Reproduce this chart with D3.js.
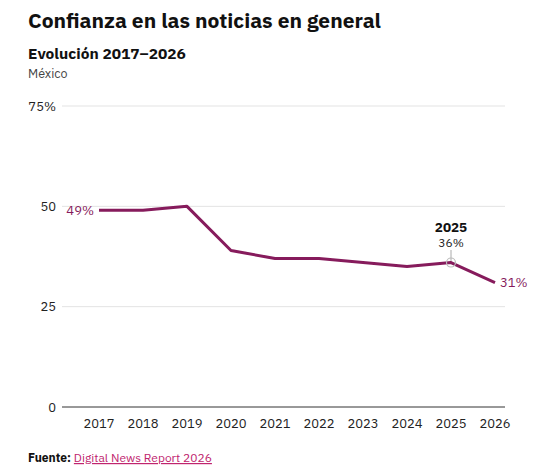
<!DOCTYPE html>
<html>
<head>
<meta charset="utf-8">
<script src="https://cdn.jsdelivr.net/npm/d3@7"></script>
<style>
  body { margin: 0; background: #fff; font-family: "IBM Plex Sans", Roboto, "Noto Sans", sans-serif; }
  svg { display: block; }
</style>
</head>
<body>
<script>
const years = [2017, 2018, 2019, 2020, 2021, 2022, 2023, 2024, 2025, 2026];
const trust = [49, 49, 50, 39, 37, 37, 36, 35, 36, 31];
const yTicks = [0, 25, 50, 75];
const highlightYear = 2025;

const width = 536, height = 469;
const color = '#861b5c';

const svg = d3.select('body').append('svg')
  .attr('width', width)
  .attr('height', height);

// titles
svg.append('text')
  .attr('x', 28).attr('y', 28)
  .attr('font-size', 21).attr('font-weight', 700).attr('fill', '#111')
  .text('Confianza en las noticias en general');
svg.append('text')
  .attr('x', 28).attr('y', 59)
  .attr('font-size', 15.5).attr('font-weight', 700).attr('fill', '#111')
  .text('Evolución 2017–2026');
svg.append('text')
  .attr('x', 28).attr('y', 78)
  .attr('font-size', 12.5).attr('fill', '#444')
  .text('México');

const x = d3.scalePoint().domain(years).range([99, 495]);
const y = d3.scaleLinear().domain([0, 75]).range([407, 106]);

// grid
svg.append('g')
  .selectAll('line')
  .data(yTicks)
  .join('line')
  .attr('x1', 62).attr('x2', 505)
  .attr('y1', d => y(d)).attr('y2', d => y(d))
  .attr('stroke', d => d === 0 ? '#333' : '#e3e3e3')
  .attr('stroke-width', 1);

svg.append('g')
  .selectAll('text')
  .data(yTicks)
  .join('text')
  .attr('x', 56)
  .attr('y', d => y(d))
  .attr('dy', '0.35em')
  .attr('text-anchor', 'end')
  .attr('font-size', 13).attr('fill', '#222')
  .text(d => d === 75 ? d + '%' : d);

// x axis labels
svg.append('g')
  .selectAll('text')
  .data(years)
  .join('text')
  .attr('x', d => x(d))
  .attr('y', 428)
  .attr('text-anchor', 'middle')
  .attr('font-size', 13).attr('fill', '#222')
  .text(d => d);

const data = years.map((yr, i) => ({ year: yr, value: trust[i] }));

// highlight annotation
const hl = data.find(d => d.year === highlightYear);
svg.append('line')
  .attr('x1', x(hl.year)).attr('x2', x(hl.year))
  .attr('y1', 250).attr('y2', y(hl.value))
  .attr('stroke', '#aaa').attr('stroke-width', 1);

svg.append('path')
  .datum(data)
  .attr('fill', 'none')
  .attr('stroke', color)
  .attr('stroke-width', 3)
  .attr('stroke-linejoin', 'round')
  .attr('d', d3.line().x(d => x(d.year)).y(d => y(d.value)));

svg.append('circle')
  .attr('cx', x(hl.year)).attr('cy', y(hl.value))
  .attr('r', 4.5)
  .attr('fill', 'none')
  .attr('stroke', '#bbb').attr('stroke-width', 1.2);

svg.append('text')
  .attr('x', x(hl.year)).attr('y', 232)
  .attr('text-anchor', 'middle')
  .attr('font-size', 13.5).attr('font-weight', 700).attr('fill', '#111')
  .text(hl.year);
svg.append('text')
  .attr('x', x(hl.year)).attr('y', 247)
  .attr('text-anchor', 'middle')
  .attr('font-size', 12).attr('fill', '#222')
  .text(hl.value + '%');

// end labels
const first = data[0], last = data[data.length - 1];
svg.append('text')
  .attr('x', x(first.year) - 5).attr('y', y(first.value))
  .attr('dy', '0.35em')
  .attr('text-anchor', 'end')
  .attr('font-size', 13).attr('fill', color)
  .text(first.value + '%');
svg.append('text')
  .attr('x', x(last.year) + 5).attr('y', y(last.value))
  .attr('dy', '0.35em')
  .attr('text-anchor', 'start')
  .attr('font-size', 13).attr('fill', color)
  .text(last.value + '%');

// source
const src = svg.append('text')
  .attr('x', 28).attr('y', 462)
  .attr('font-size', 12).attr('fill', '#111');
src.append('tspan').attr('font-weight', 700).text('Fuente: ');
src.append('tspan')
  .attr('fill', '#c0246e')
  .attr('text-decoration', 'underline')
  .text('Digital News Report 2026');
</script>
</body>
</html>
